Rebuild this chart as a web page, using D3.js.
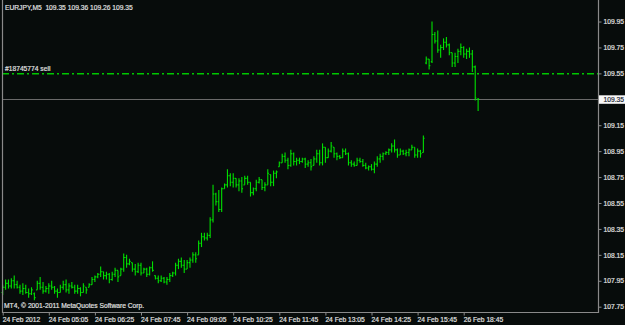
<!DOCTYPE html>
<html>
<head>
<meta charset="utf-8">
<script src="https://cdnjs.cloudflare.com/ajax/libs/d3/7.8.5/d3.min.js"></script>
<style>
body { margin: 0; background: #070c0b; }
svg { display: block; }
text { font-family: "Liberation Sans", Arial, sans-serif; font-size: 6.7px; fill: #e2e2e2;
       stroke: #e2e2e2; stroke-width: 0.18px; white-space: pre; }
</style>
</head>
<body>
<svg id="chart" width="625" height="325"></svg>
<script>
// EURJPY M5 bars (index = bar number)
var open = [
107.86,107.90,107.93,107.91,107.95,107.92,107.90,107.87,107.89,107.86,
107.85,107.85,107.88,107.93,107.90,107.87,107.89,107.91,107.90,107.87,
107.86,107.90,107.92,107.88,107.91,107.90,107.87,107.89,107.86,107.90,
107.90,107.92,107.96,107.98,108.00,108.02,107.99,108.00,107.96,108.00,
108.03,107.99,108.04,108.13,108.08,108.09,108.04,108.02,108.07,108.01,
108.04,108.00,108.05,107.99,107.97,107.95,107.97,107.94,107.96,107.99,
108.01,108.07,108.10,108.07,108.04,108.09,108.11,108.15,108.15,108.24,
108.29,108.28,108.30,108.42,108.62,108.56,108.50,108.66,108.69,108.76,
108.71,108.74,108.69,108.72,108.69,108.74,108.71,108.63,108.66,108.71,
108.73,108.67,108.69,108.77,108.71,108.78,108.83,108.86,108.91,108.88,
108.84,108.93,108.87,108.88,108.87,108.89,108.85,108.86,108.84,108.89,
108.93,108.86,108.98,108.90,108.95,108.98,108.93,108.91,108.90,108.95,
108.93,108.86,108.85,108.84,108.88,108.87,108.84,108.82,108.83,108.81,
108.85,108.89,108.91,108.93,108.94,108.96,108.99,108.96,108.92,108.95,
108.93,108.94,108.96,108.98,108.92,108.95,108.94,
109.63,109.66,109.64,109.85,109.80,109.73,109.75,109.79,109.77,109.71,
109.63,109.68,109.72,109.75,109.70,109.72,109.70,109.60,109.35];
var high = [
107.92,107.96,107.96,107.97,107.99,107.95,107.92,107.93,107.92,107.89,
107.90,107.86,107.95,107.98,107.94,107.91,107.93,107.95,107.91,107.89,
107.92,107.95,107.96,107.93,107.94,107.92,107.92,107.90,107.93,107.90,
107.93,107.98,107.99,108.01,108.06,108.02,108.02,108.01,108.02,108.05,
108.03,108.05,108.16,108.15,108.12,108.09,108.08,108.09,108.09,108.05,
108.05,108.06,108.10,107.99,107.99,107.99,107.98,107.98,108.01,108.02,
108.09,108.12,108.13,108.11,108.11,108.13,108.17,108.17,108.26,108.32,
108.32,108.32,108.44,108.69,108.63,108.65,108.67,108.70,108.81,108.78,
108.78,108.74,108.74,108.75,108.76,108.76,108.71,108.67,108.73,108.75,
108.73,108.71,108.81,108.77,108.80,108.80,108.87,108.93,108.94,108.90,
108.96,108.94,108.90,108.90,108.90,108.90,108.88,108.89,108.91,108.96,
108.96,109.01,108.98,108.97,109.02,108.98,108.94,108.92,108.97,108.97,
108.94,108.88,108.87,108.90,108.90,108.89,108.86,108.84,108.85,108.87,
108.91,108.93,108.94,108.95,108.97,109.01,109.04,108.97,108.97,108.96,
108.96,108.97,109.00,108.98,108.97,108.96,109.07,
109.68,109.66,109.95,109.87,109.88,109.77,109.82,109.83,109.78,109.71,
109.71,109.74,109.78,109.76,109.74,109.75,109.73,109.61,109.36];
var low = [
107.84,107.88,107.89,107.89,107.89,107.89,107.85,107.84,107.85,107.82,
107.84,107.80,107.88,107.88,107.85,107.86,107.85,107.88,107.85,107.82,
107.86,107.88,107.86,107.85,107.89,107.85,107.85,107.83,107.86,107.85,
107.90,107.92,107.94,107.97,107.98,107.96,107.96,107.93,107.95,107.98,
107.94,107.99,108.02,108.05,108.07,108.02,107.99,108.01,107.99,108.01,
107.98,107.99,108.02,107.96,107.93,107.94,107.93,107.92,107.94,107.98,
107.99,108.04,108.05,108.01,108.04,108.05,108.09,108.09,108.15,108.21,
108.26,108.26,108.28,108.40,108.53,108.48,108.48,108.66,108.67,108.68,
108.67,108.67,108.64,108.63,108.69,108.69,108.60,108.61,108.64,108.70,
108.65,108.64,108.69,108.68,108.68,108.74,108.83,108.86,108.86,108.81,
108.83,108.84,108.84,108.85,108.86,108.82,108.83,108.80,108.84,108.86,
108.84,108.84,108.86,108.90,108.94,108.90,108.88,108.89,108.90,108.92,
108.84,108.83,108.83,108.84,108.86,108.83,108.81,108.80,108.80,108.78,
108.83,108.86,108.88,108.92,108.92,108.94,108.94,108.90,108.92,108.92,
108.91,108.91,108.96,108.90,108.90,108.90,108.94,
109.62,109.58,109.63,109.78,109.71,109.67,109.73,109.75,109.69,109.60,
109.60,109.63,109.69,109.67,109.66,109.67,109.56,109.34,109.26];
var close = [
107.90,107.93,107.91,107.95,107.92,107.90,107.87,107.89,107.86,107.85,
107.88,107.82,107.93,107.90,107.87,107.89,107.91,107.90,107.87,107.86,
107.90,107.92,107.88,107.91,107.90,107.87,107.89,107.86,107.91,107.88,
107.92,107.96,107.98,108.00,108.02,107.99,108.00,107.96,108.00,108.03,
107.98,108.04,108.13,108.08,108.10,108.04,108.02,108.07,108.01,108.04,
108.00,108.05,108.03,107.97,107.95,107.97,107.94,107.96,107.99,108.01,
108.07,108.10,108.07,108.04,108.09,108.11,108.15,108.12,108.24,108.29,
108.28,108.30,108.42,108.62,108.56,108.50,108.66,108.69,108.76,108.71,
108.74,108.69,108.72,108.66,108.74,108.71,108.63,108.66,108.71,108.73,
108.67,108.69,108.78,108.71,108.78,108.79,108.86,108.91,108.88,108.84,
108.93,108.87,108.88,108.87,108.89,108.85,108.86,108.83,108.89,108.93,
108.86,108.98,108.90,108.95,108.99,108.93,108.91,108.90,108.95,108.93,
108.86,108.85,108.84,108.88,108.87,108.84,108.82,108.83,108.81,108.85,
108.89,108.91,108.93,108.94,108.96,108.99,108.96,108.92,108.95,108.93,
108.94,108.96,108.98,108.92,108.95,108.93,109.05,
109.66,109.61,109.85,109.80,109.73,109.75,109.79,109.77,109.71,109.63,
109.68,109.72,109.75,109.70,109.72,109.70,109.60,109.36,109.35];

var priceTicks = [107.75,107.95,108.15,108.35,108.55,108.75,108.95,109.15,109.35,109.55,109.75,109.95];
var timeTickBars = [0,16,32,48,64,80,96,112,128,144,160];
var timeLabels = ["24 Feb 2012","24 Feb 05:05","24 Feb 06:25","24 Feb 07:45","24 Feb 09:05",
  "24 Feb 10:25","24 Feb 11:45","24 Feb 13:05","24 Feb 14:25","24 Feb 15:45","26 Feb 18:45"];
var symbolInfo = "EURJPY,M5  109.35 109.36 109.26 109.35";
var bidPrice = 109.35;
var orderPrice = 109.55;
var orderLabel = "#18745774 sell";
var copyright = "MT4, \u00a9 2001-2011 MetaQuotes Software Corp.";

var svg = d3.select('#chart');
var plotRight = 598, plotBottom = 312;
var fontFam = '"Liberation Sans", Arial, sans-serif';

var x = d3.scaleLinear().domain([0, 160]).range([2.7, 463.7]);
var y = d3.scaleLinear().domain([107.75, 109.35]).range([306.7, 99.3]);

svg.append('rect').attr('width', 625).attr('height', 325).attr('fill', '#070c0b');

// bid line
var bidY = Math.round(y(bidPrice)) + 0.5;
svg.append('line')
    .attr('x1', 2).attr('x2', plotRight)
    .attr('y1', bidY).attr('y2', bidY)
    .style('stroke', '#6a6a6a').style('stroke-width', '1px');

// order line (dash-dot, green) - soft like the scaled screenshot
var ordY = y(orderPrice) + 0.3;
svg.append('path')
    .attr('d', 'M2,' + ordY + 'H' + plotRight)
    .style('fill', 'none')
    .style('stroke', '#00c800').style('stroke-width', '1.4px')
    .style('stroke-dasharray', '7,3,2,3');
svg.append('text')
    .attr('x', 5).attr('y', Math.round(ordY) - 3.5)
    .text(orderLabel);

// OHLC bars
var bars = svg.append('g').attr('stroke', '#00e000').attr('stroke-width', 1.1);
var idx = d3.range(high.length);
bars.selectAll('line.hl').data(idx).enter().append('line')
    .attr('class', 'hl')
    .attr('x1', function (i) { return x(i); })
    .attr('x2', function (i) { return x(i); })
    .attr('y1', function (i) { return y(high[i]); })
    .attr('y2', function (i) { return y(low[i]); });
bars.selectAll('line.op').data(idx).enter().append('line')
    .attr('class', 'op')
    .attr('x1', function (i) { return x(i) - 1.2; })
    .attr('x2', function (i) { return x(i); })
    .attr('y1', function (i) { return y(open[i]); })
    .attr('y2', function (i) { return y(open[i]); });
bars.selectAll('line.cl').data(idx).enter().append('line')
    .attr('class', 'cl')
    .attr('x1', function (i) { return x(i); })
    .attr('x2', function (i) { return x(i) + 1.2; })
    .attr('y1', function (i) { return y(close[i]); })
    .attr('y2', function (i) { return y(close[i]); });

// frame
var frame = svg.append('g').attr('stroke', '#8a8a8a').attr('stroke-width', 1.2).attr('fill', 'none');
frame.append('path').attr('d', 'M2.5,0V' + (plotBottom + 0.5) + 'H' + (plotRight + 0.5) + 'V0');

// price axis
var yAxis = d3.axisRight(y).tickValues(priceTicks).tickSize(3).tickPadding(2)
    .tickFormat(d3.format('.2f'));
var ya = svg.append('g').attr('transform', 'translate(' + (plotRight + 0.5) + ',0)').call(yAxis);
ya.select('.domain').remove();
ya.selectAll('line').attr('stroke', '#8a8a8a');
ya.selectAll('text').attr('fill', '#e2e2e2').style('font-size', '6.7px').style('font-family', fontFam);

// time axis
var xAxis = d3.axisBottom(x).tickValues(timeTickBars).tickSize(3).tickPadding(2)
    .tickFormat(function (d, i) { return timeLabels[i]; });
var xa = svg.append('g').attr('transform', 'translate(0,' + (plotBottom + 0.5) + ')').call(xAxis);
xa.select('.domain').remove();
xa.selectAll('line').attr('stroke', '#8a8a8a');
xa.selectAll('text').attr('text-anchor', 'start').attr('dx', '-0.5')
    .attr('fill', '#e2e2e2').style('font-size', '6.7px').style('font-family', fontFam);

// bid price box on the scale
var by = y(bidPrice);
svg.append('rect').attr('x', plotRight + 1).attr('y', by - 4).attr('width', 26).attr('height', 8.5)
    .attr('fill', '#f8f8f8');
svg.append('text').attr('x', plotRight + 5.5).attr('y', by + 2.6)
    .style('fill', '#1a2530').style('stroke', '#1a2530').text(d3.format('.2f')(bidPrice));

svg.append('text').attr('x', 5).attr('y', 9.7).text(symbolInfo);
svg.append('text').attr('x', 4).attr('y', 308).text(copyright);
</script>
</body>
</html>
